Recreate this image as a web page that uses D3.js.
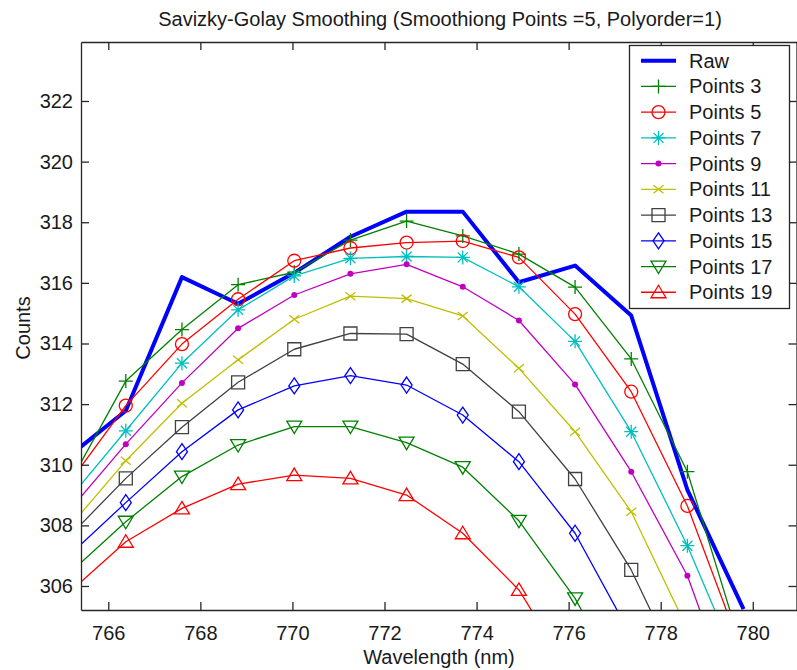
<!DOCTYPE html>
<html>
<head>
<meta charset="utf-8">
<script src="https://cdn.jsdelivr.net/npm/d3@7"></script>
<style>
  body { margin: 0; background: #fff; }
  text { font-family: "Liberation Sans", Arial, sans-serif; fill: #1a1a1a; }
</style>
</head>
<body>
<div id="chart"></div>
<script>
// chart size and plot box
const width = 797;
const height = 670;
const marginTop = 42;
const marginBottom = 60;
const marginLeft = 81;
const marginRight = 0.5;

// wavelengths of the samples (nm)
const wavelength = [765.16, 766.38, 767.60, 768.82, 770.04, 771.26, 772.48, 773.70, 774.92, 776.14, 777.36, 778.58, 779.80];

// raw counts and the smoothed versions
const raw = [310.30, 311.78, 316.19, 315.31, 316.33, 317.52, 318.35, 318.35, 316.02, 316.57, 314.92, 309.17, 305.24];
const p3  = [309.40, 312.76, 314.46, 315.94, 316.35, 317.41, 318.04, 317.55, 316.95, 315.86, 313.49, 309.77, 303.73];
const p5  = [309.43, 311.95, 313.98, 315.46, 316.73, 317.15, 317.33, 317.38, 316.84, 314.97, 312.41, 308.64, 303.69];
const p7  = [308.90, 311.12, 313.35, 315.11, 316.23, 316.81, 316.87, 316.84, 315.87, 314.07, 311.09, 307.33, 302.97];
const p9  = [308.50, 310.68, 312.70, 314.50, 315.60, 316.30, 316.61, 315.87, 314.76, 312.65, 309.77, 306.34, 301.21];
const p11 = [307.96, 310.13, 312.03, 313.46, 314.80, 315.56, 315.48, 314.91, 313.18, 311.09, 308.45, 304.58, 300.00];
const p13 = [307.65, 309.55, 311.24, 312.72, 313.81, 314.33, 314.31, 313.32, 311.75, 309.53, 306.53, 302.65, 298.50];
const p15 = [307.02, 308.75, 310.43, 311.81, 312.60, 312.94, 312.63, 311.64, 310.10, 307.74, 304.35, 300.00, 295.00];
const p17 = [306.43, 308.12, 309.61, 310.65, 311.26, 311.26, 310.73, 309.92, 308.15, 305.59, 302.20, 299.00, 294.00];
const p19 = [305.80, 307.46, 308.56, 309.36, 309.66, 309.55, 309.00, 307.74, 305.87, 302.87, 299.00, 295.00, 290.00];

const seriesNames = ["Raw", "Points 3", "Points 5", "Points 7", "Points 9", "Points 11", "Points 13", "Points 15", "Points 17", "Points 19"];
const seriesValues = [raw, p3, p5, p7, p9, p11, p13, p15, p17, p19];
const seriesColors = ["#0000ff", "#008000", "#ff0000", "#00bfbf", "#bf00bf", "#bfbf00", "#404040", "#0000ff", "#008000", "#ff0000"];
const seriesMarkers = ["none", "plus", "circle", "star", "dot", "cross", "square", "diamond", "triDown", "triUp"];

const xTicks = [766, 768, 770, 772, 774, 776, 778, 780];
const yTicks = [306, 308, 310, 312, 314, 316, 318, 320, 322];

const titleText = "Savizky-Golay Smoothing (Smoothiong Points =5, Polyorder=1)";
const xLabel = "Wavelength (nm)";
const yLabel = "Counts";

// scales
const x = d3.scaleLinear()
  .domain([765.407, 780.95])
  .range([marginLeft, width - marginRight]);

const y = d3.scaleLinear()
  .domain([305.208, 323.946])
  .range([height - marginBottom, marginTop]);

const svg = d3.select("#chart").append("svg")
  .attr("width", width)
  .attr("height", height)
  .attr("viewBox", [0, 0, width, height]);

svg.append("defs").append("clipPath")
  .attr("id", "plotclip")
  .append("rect")
  .attr("x", marginLeft)
  .attr("y", marginTop)
  .attr("width", width - marginRight - marginLeft)
  .attr("height", height - marginBottom - marginTop);

// marker path for a given kind, centered at 0,0
function markerPath(kind) {
  const p = d3.path();
  if (kind === "plus") {
    p.moveTo(-7, 0); p.lineTo(7, 0); p.moveTo(0, -7); p.lineTo(0, 7);
  } else if (kind === "circle") {
    p.moveTo(6.5, 0); p.arc(0, 0, 6.5, 0, 2 * Math.PI);
  } else if (kind === "star") {
    p.moveTo(-7, 0); p.lineTo(7, 0); p.moveTo(0, -7); p.lineTo(0, 7);
    p.moveTo(-5, -5); p.lineTo(5, 5); p.moveTo(-5, 5); p.lineTo(5, -5);
  } else if (kind === "cross") {
    p.moveTo(-5, -4); p.lineTo(5, 4); p.moveTo(-5, 4); p.lineTo(5, -4);
  } else if (kind === "square") {
    p.rect(-6.5, -6.5, 13, 13);
  } else if (kind === "diamond") {
    p.moveTo(0, -8); p.lineTo(5.5, 0); p.lineTo(0, 8); p.lineTo(-5.5, 0); p.closePath();
  } else if (kind === "triDown") {
    p.moveTo(-7.5, -5.5); p.lineTo(7.5, -5.5); p.lineTo(0, 7); p.closePath();
  } else if (kind === "triUp") {
    p.moveTo(0, -7); p.lineTo(7.5, 5.5); p.lineTo(-7.5, 5.5); p.closePath();
  }
  return p.toString();
}

function drawMarker(g, kind, color) {
  if (kind === "none") return;
  if (kind === "dot") {
    g.append("circle").attr("r", 3).attr("fill", color);
    return;
  }
  g.append("path")
    .attr("d", markerPath(kind))
    .attr("fill", "none")
    .attr("stroke", color)
    .attr("stroke-width", 1.3);
}

// series lines and markers
const plotArea = svg.append("g").attr("clip-path", "url(#plotclip)");

const line = d3.line()
  .x((d, i) => x(wavelength[i]))
  .y(d => y(d));

seriesValues.forEach((vals, k) => {
  plotArea.append("path")
    .datum(vals)
    .attr("fill", "none")
    .attr("stroke", seriesColors[k])
    .attr("stroke-width", k === 0 ? 4 : 1.3)
    .attr("stroke-linejoin", "round")
    .attr("d", line);
});

seriesValues.forEach((vals, k) => {
  if (seriesMarkers[k] === "none") return;
  vals.forEach((v, i) => {
    const g = plotArea.append("g")
      .attr("transform", `translate(${x(wavelength[i])},${y(v)})`);
    drawMarker(g, seriesMarkers[k], seriesColors[k]);
  });
});

// axes (box with ticks on all four sides)
const axisColor = "#262626";
const tickLen = 8;
const x0 = marginLeft, x1 = width - marginRight;
const y0 = height - marginBottom, y1 = marginTop;

svg.append("g")
  .attr("transform", `translate(0,${y0})`)
  .call(d3.axisBottom(x).tickValues(xTicks).tickSizeInner(-tickLen).tickSizeOuter(0).tickPadding(16))
  .call(g => g.select(".domain").attr("stroke", axisColor).attr("stroke-width", 1.3))
  .call(g => g.selectAll(".tick line").attr("stroke", axisColor).attr("stroke-width", 1.3))
  .call(g => g.selectAll(".tick text").attr("font-size", 20).attr("font-family", "Liberation Sans, Arial, sans-serif").attr("fill", "#1a1a1a"));

svg.append("g")
  .attr("transform", `translate(0,${y1})`)
  .call(d3.axisTop(x).tickValues(xTicks).tickSizeInner(-tickLen).tickSizeOuter(0).tickFormat(""))
  .call(g => g.select(".domain").attr("stroke", axisColor).attr("stroke-width", 1.3))
  .call(g => g.selectAll(".tick line").attr("stroke", axisColor).attr("stroke-width", 1.3));

svg.append("g")
  .attr("transform", `translate(${x0},0)`)
  .call(d3.axisLeft(y).tickValues(yTicks).tickSizeInner(-tickLen).tickSizeOuter(0).tickPadding(8))
  .call(g => g.select(".domain").attr("stroke", axisColor).attr("stroke-width", 1.3))
  .call(g => g.selectAll(".tick line").attr("stroke", axisColor).attr("stroke-width", 1.3))
  .call(g => g.selectAll(".tick text").attr("font-size", 20).attr("font-family", "Liberation Sans, Arial, sans-serif").attr("fill", "#1a1a1a"));

svg.append("g")
  .attr("transform", `translate(${x1},0)`)
  .call(d3.axisRight(y).tickValues(yTicks).tickSizeInner(-tickLen).tickSizeOuter(0).tickFormat(""))
  .call(g => g.select(".domain").attr("stroke", axisColor).attr("stroke-width", 1.3))
  .call(g => g.selectAll(".tick line").attr("stroke", axisColor).attr("stroke-width", 1.3));

// title and axis labels
svg.append("text")
  .attr("x", 440)
  .attr("y", 26)
  .attr("text-anchor", "middle")
  .attr("font-size", 20)
  .text(titleText);

svg.append("text")
  .attr("x", 439)
  .attr("y", 664)
  .attr("text-anchor", "middle")
  .attr("font-size", 20)
  .text(xLabel);

svg.append("text")
  .attr("transform", "translate(30,328) rotate(-90)")
  .attr("text-anchor", "middle")
  .attr("font-size", 20)
  .text(yLabel);

// legend
const legend = svg.append("g");
legend.append("rect")
  .attr("x", 629.5)
  .attr("y", 45.5)
  .attr("width", 160)
  .attr("height", 263)
  .attr("fill", "#fff")
  .attr("stroke", axisColor)
  .attr("stroke-width", 1.3);

seriesNames.forEach((name, k) => {
  const ly = 60.7 + k * 25.73;
  const row = legend.append("g");
  row.append("line")
    .attr("x1", 641).attr("x2", 676)
    .attr("y1", ly).attr("y2", ly)
    .attr("stroke", seriesColors[k])
    .attr("stroke-width", k === 0 ? 4 : 1.3);
  const mg = row.append("g").attr("transform", `translate(658.5,${ly})`);
  drawMarker(mg, seriesMarkers[k], seriesColors[k]);
  row.append("text")
    .attr("x", 689)
    .attr("y", ly + 7)
    .attr("font-size", 20)
    .text(name);
});
</script>
</body>
</html>
